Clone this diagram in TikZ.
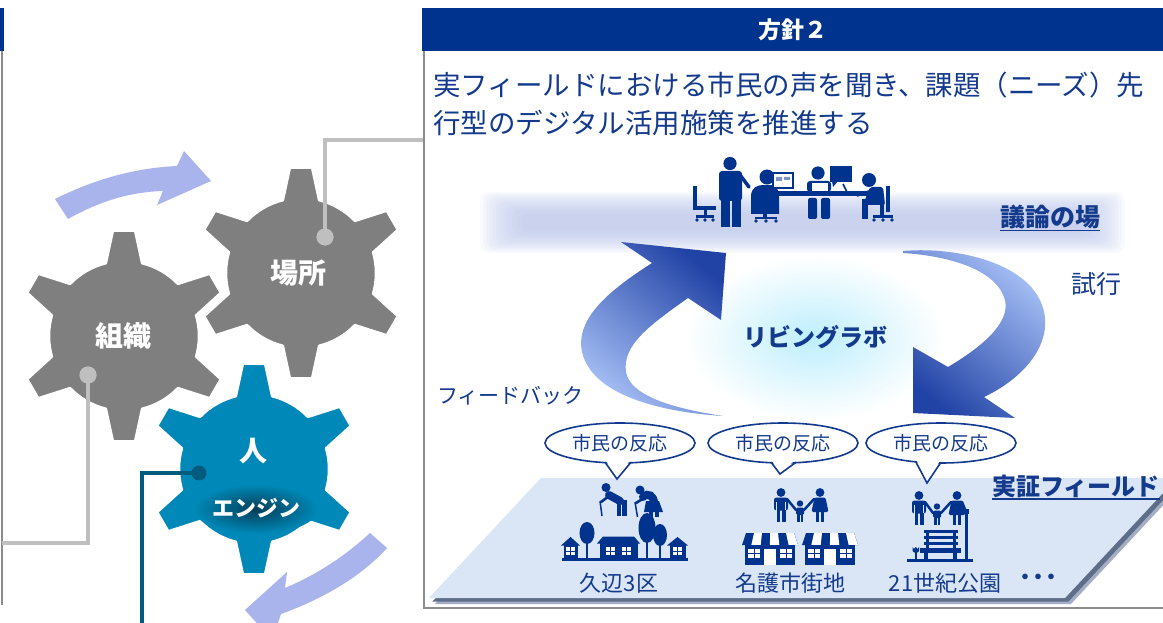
\documentclass[tikz,border=0pt]{standalone}
\usepackage{fontspec}
\setmainfont{Noto Sans CJK JP}
\usetikzlibrary{shapes.geometric,calc}

\definecolor{dblue}{HTML}{00338D}
\definecolor{tblue}{HTML}{133A8C}
\definecolor{geargray}{HTML}{7F7F7F}
\definecolor{gearblue}{HTML}{0089B8}
\definecolor{engc}{HTML}{023E58}
\definecolor{connlight}{HTML}{BFBFBF}
\definecolor{connteal}{HTML}{005C7C}
\definecolor{swirl}{HTML}{A9B3EC}
\definecolor{fieldc}{HTML}{DAE5F5}
\definecolor{shadowa}{HTML}{A3AEC4}
\definecolor{shadowb}{HTML}{5E6D88}
\definecolor{bandc}{HTML}{BCC8EE}
\definecolor{glowc}{HTML}{BDEEFD}
\definecolor{arrlight}{HTML}{A9C2F7}
\definecolor{arrdark}{HTML}{2243A6}
\definecolor{framec}{HTML}{8C8C8C}
\definecolor{monc}{HTML}{7F93C4}

\tikzset{
  gearg/.style={fill=geargray, draw=white, line width=2.5, line join=round},
  gearb/.style={fill=gearblue, draw=white, line width=2.5, line join=round},
  geartxt/.style={text=white, font=\bfseries\fontsize{28}{30}\selectfont, inner sep=0},
  lconn/.style={draw=connlight, line width=4.5},
  tconn/.style={draw=connteal, line width=4},
  ldot/.style={circle, fill=connlight, minimum size=17, inner sep=0},
  tdot/.style={circle, fill=connteal, minimum size=15, inner sep=0},
  bubble/.style={ellipse, draw=tblue, fill=white, line width=1.6, minimum width=150, minimum height=40,
    inner sep=0, text=tblue, font=\fontsize{19}{20}\selectfont},
  lbl/.style={text=tblue, inner sep=0, font=\fontsize{22}{24}\selectfont},
  ico/.style={fill=dblue},
  win/.pic={\fill[white] (0,0) rectangle (9,8);
            \draw[dblue, line width=1] (4.5,0) -- (4.5,8) (0,4) -- (9,4);},
  man/.pic={\fill[dblue] (0,-29.5) circle[radius=4.4];
            \fill[dblue, rounded corners=2.5] (-7,-24.5) rectangle (7,-11.5);
            \fill[fieldc] (-4.8,-20) rectangle (-4,-11);
            \fill[fieldc] (4,-20) rectangle (4.8,-11);
            \fill[dblue] (-4.5,-12) rectangle (-0.6,0);
            \fill[dblue] (0.6,-12) rectangle (4.5,0);},
  woman/.pic={\fill[dblue] (0,-29.5) circle[radius=4.4];
            \fill[dblue, rounded corners=1.5] (-5.5,-24.5) -- (5.5,-24.5) -- (8.5,-10) -- (-8.5,-10) -- cycle;
            \fill[dblue] (-3.8,-10.5) rectangle (-0.7,0);
            \fill[dblue] (0.7,-10.5) rectangle (3.8,0);},
  child/.pic={\fill[dblue] (0,-18.5) circle[radius=3.2];
            \fill[dblue, rounded corners=1.5] (-4,-14.5) rectangle (4,-7);
            \fill[dblue] (-3.3,-7.5) rectangle (-0.5,0);
            \fill[dblue] (0.5,-7.5) rectangle (3.3,0);},
  shop/.pic={\fill[dblue] (0,12) -- (4,0) -- (52,0) -- (56,12) -- cycle;
            \foreach \s in {1,3,5} {\fill[white] ({4+8*\s},0) -- ({4+8*(\s+1)},0) -- ({9.33*(\s+1)},12) -- ({9.33*\s},12) -- cycle;}
            \fill[dblue] (3,12) rectangle (53,32);
            \fill[white] (6,15.5) rectangle (18,25);
            \draw[dblue, line width=1] (12,15.5) -- (12,25) (6,20.2) -- (18,20.2);
            \fill[white] (22,15.5) rectangle (34,32);
            \fill[white] (38,15.5) rectangle (50,25);
            \draw[dblue, line width=1] (44,15.5) -- (44,25) (38,20.2) -- (50,20.2);},
}

% one six-toothed gear centred at (#1,#2)
\newcommand\gearat[3]{%
  \begin{scope}[shift={(#1,#2)}]
    \path[#3] (16:75) \foreach \t in {30,90,...,330} {
        -- ({\t-14}:75) -- ({\t-6}:106) -- ({\t+6}:106) -- ({\t+14}:75)
        arc[start angle={\t+14}, end angle={\t+46}, radius=75] } -- cycle;
  \end{scope}}

% tail of a speech bubble: node, left and right offsets of the base, tip offset
\newcommand\bubtail[4]{%
  \fill[white] ($(#1.center)+(#2,16)$) -- ($(#1.center)+#4$) -- ($(#1.center)+(#3,16)$) -- cycle;
  \draw[tblue, line width=1.6, line join=miter] ($(#1.center)+(#2,19.2)$) -- ($(#1.center)+#4$) -- ($(#1.center)+(#3,19.2)$);}

\begin{document}
\begin{tikzpicture}[x=1pt, y=-1pt]
\useasboundingbox (0,0) rectangle (1163,623);
\clip (0,0) rectangle (1163,623);
\fill[white] (0,0) rectangle (1163,623);

% ---------- left column ----------
\fill[dblue] (0,8) rectangle (4,51);
\draw[framec, line width=2] (1.5,51) -- (1.5,605);

% rotation swirls
\fill[swirl] (55,199) .. controls (95,179) and (135,168) .. (177,166) -- (184,151) -- (211,181)
  -- (157,205) -- (163,191) .. controls (130,192) and (100,201) .. (68,219) -- cycle;
\fill[swirl] (370,533) .. controls (345,556) and (318,574) .. (285,588) -- (287,572) -- (245,610)
  -- (272,640) -- (281,614) .. controls (320,600) and (360,578) .. (387,548) -- cycle;

% gears
\gearat{124}{336}{gearg}
\gearat{301}{273}{gearg}
\gearat{254}{469}{gearb}
\shade[inner color=engc, outer color=gearblue] (256,509) ellipse [x radius=62, y radius=25];

\node[geartxt] (basho) at (298,273) {場所};
\node[geartxt] (soshiki) at (123,336) {組織};
\node[geartxt] (hito) at (253,451) {人};
\node[geartxt, font=\bfseries\fontsize{22}{24}\selectfont] (engine) at (256,508) {エンジン};

% gear connectors
\coordinate (panelIn) at (424,140);
\coordinate (leftIn) at (1.5,543);
\coordinate (bottomOut) at (142,630);
\node[ldot] (dotBasho) at (325,237) {};
\node[ldot] (dotSoshiki) at (88,375) {};
\draw[lconn] (dotBasho.center) |- (panelIn);
\draw[lconn] (dotSoshiki.center) |- (leftIn);
\node[ldot] at (dotBasho) {};
\node[ldot] at (dotSoshiki) {};
\node[tdot] (dotHito) at (199,473) {};
\draw[tconn] (dotHito.center) -| (bottomOut);

% ---------- right panel ----------
\node[fill=dblue, text=white, minimum width=741, minimum height=43, inner sep=0, anchor=north west,
  font=\bfseries\fontsize{23}{24}\selectfont] (hdr) at (422,8) {方針２};
\draw[framec, line width=2] (424,51) -- (424,608) -- (1163,608);

\node[anchor=west, inner sep=0, text=tblue, font=\fontsize{27.5}{28}\selectfont] (title1) at (433,85)
  {実フィールドにおける市民の声を聞き、課題（ニーズ）先};
\node[anchor=west, inner sep=0, text=tblue, font=\fontsize{27.5}{28}\selectfont] (title2) at (433,123)
  {行型のデジタル活用施策を推進する};

% discussion band
\foreach \i in {0,...,13} {
  \fill[bandc, opacity=0.09, rounded corners=9] ({480+3.2*\i},{192+1.7*\i}) rectangle ({1125-3.2*\i},{253-1.7*\i});
}

% glow behind the living lab
\shade[inner color=glowc, outer color=white] (815,338) ellipse [x radius=130, y radius=82];

% feedback arrow
\shade[top color=arrdark, bottom color=arrlight, shading angle=-40]
  (723,416) .. controls (660,412) and (592,395) .. (582,352) .. controls (575,318) and (610,290) .. (652,263)
  -- (621,242) -- (726,253) -- (721,320) -- (688,298)
  .. controls (650,325) and (622,345) .. (626,372) .. controls (630,395) and (670,408) .. (723,416) -- cycle;
% trial arrow
\shade[top color=arrlight, bottom color=arrdark, shading angle=-40]
  (903,251) .. controls (960,246) and (1040,265) .. (1045,318) .. controls (1048,350) and (1020,380) .. (984,397)
  -- (1015,418) -- (913,413) -- (913,347) -- (948,367)
  .. controls (985,345) and (1010,322) .. (1005,300) .. controls (997,270) and (950,256) .. (903,253) -- cycle;

\node[text=tblue, inner sep=0, font=\bfseries\fontsize{24}{26}\selectfont] (lab) at (815,337) {リビングラボ};
\node[text=tblue, inner sep=0, font=\fontsize{21}{22}\selectfont, anchor=west] (fb) at (437,396) {フィードバック};
\node[text=tblue, inner sep=0, font=\fontsize{25}{26}\selectfont] (trial) at (1096,284) {試行};
\node[text=tblue, inner sep=0, font=\bfseries\fontsize{25}{26}\selectfont] (giron) at (1050,217) {議論の場};
\draw[tblue, line width=1.6] ([yshift=-1.5]giron.south west) -- ([yshift=-1.5]giron.south east);

% meeting icon
\fill[ico] (693,186) rectangle (696.5,210);
\fill[ico] (693,206) rectangle (716,210.5);
\fill[ico] (703.5,210) rectangle (706.5,216);
\fill[ico] (696,215.5) rectangle (714,218);
\fill[ico] (697,220) circle[radius=1.8] (713,220) circle[radius=1.8] (705,220) circle[radius=1.8];
\fill[ico] (730,163.5) circle[radius=6.6];
\fill[ico, rounded corners=3] (719,171) rectangle (742,201);
\fill[ico] (720.5,199) rectangle (729.5,227);
\fill[ico] (731.5,199) rectangle (740.5,227);
\draw[dblue, line width=3.5, line cap=round] (740,175) -- (749,187);
\fill[ico] (767,177) circle[radius=7.5];
\fill[ico] (751,214) -- (751,197) .. controls (751,187) and (757,185) .. (765,185) -- (769,185)
  .. controls (777,185) and (779,190) .. (779,197) -- (779,214) -- cycle;
\fill[ico] (763,213) rectangle (767,218);
\fill[ico] (755,217) rectangle (777,219.5);
\fill[ico] (756,221) circle[radius=1.8] (776,221) circle[radius=1.8] (766,221) circle[radius=1.8];
\fill[ico] (772,172) rectangle (794,189);
\fill[white] (774,174) rectangle (792,187);
\fill[monc] (776,177) rectangle (782,181) (784,177) rectangle (790,180);
\fill[ico] (776,191) rectangle (868,196);
\fill[ico] (818,173) circle[radius=6.6];
\fill[ico, rounded corners=3] (807,181) rectangle (831,192);
\fill[white] (811,183) rectangle (828,191.5);
\draw[dblue, line width=1] (811,183) rectangle (828,191.5);
\fill[ico, rounded corners=2] (808,198) rectangle (817,219);
\fill[ico, rounded corners=2] (821,198) rectangle (830,219);
\fill[ico] (830,166) rectangle (852,182);
\fill[ico] (832,181) -- (833,187) -- (838,181) -- cycle;
\draw[dblue, line width=1.6] (843,184) -- (848,194);
\fill[ico] (869,180) circle[radius=7];
\fill[ico, rounded corners=2] (870,187) -- (883,187) -- (885,205) -- (863,205) -- cycle;
\draw[dblue, line width=3.5, line cap=round] (873,191) -- (857,195);
\fill[ico] (862,199) rectangle (868,219);
\fill[ico] (886,186) rectangle (889.5,212);
\fill[ico] (880,204) rectangle (884,216);
\fill[ico] (873,215.5) rectangle (893,218);
\fill[ico] (874,220) circle[radius=1.8] (892,220) circle[radius=1.8] (883,220) circle[radius=1.8];

% demonstration field
\fill[shadowa] (435,604) -- (547,484) -- (1183,484) -- (1071,604) -- cycle;
\fill[shadowb] (432.5,601.5) -- (544.5,481.5) -- (1180.5,481.5) -- (1068.5,601.5) -- cycle;
\fill[fieldc] (429,598) -- (541,478) -- (1177,478) -- (1065,598) -- cycle;
\node[text=tblue, inner sep=0, anchor=west, font=\bfseries\fontsize{24}{26}\selectfont] (field) at (992,486) {実証フィールド};
\draw[tblue, line width=1.6] ([yshift=-1.5]field.south west) -- ([yshift=-1.5]field.south east);

% speech bubbles
\node[bubble] (bub1) at (620,443) {市民の反応};
\node[bubble] (bub2) at (783,443) {市民の反応};
\node[bubble] (bub3) at (941,443) {市民の反応};
\bubtail{bub1}{-15}{11}{(-3,36)}
\bubtail{bub2}{-12}{13}{(-3,31)}
\bubtail{bub3}{-25}{0}{(-14,40)}

% icon: elderly couple and houses
\fill[ico] (606,487.5) circle[radius=4.5];
\draw[dblue, line width=8, line cap=round] (609,495) -- (620,501);
\fill[ico] (616.5,500) rectangle (621,516);
\fill[ico] (622,500) rectangle (626.5,516);
\draw[dblue, line width=2.6, line cap=round] (609,496) -- (601,502);
\draw[dblue, line width=1.5] (600,501) -- (602,516);
\fill[ico] (640,490) circle[radius=4.5];
\draw[dblue, line width=8, line cap=round] (643,497) .. controls (648,492) and (654,496) .. (654,503);
\fill[ico] (646,501) -- (659,501) -- (663,512) -- (644,512) -- cycle;
\fill[ico] (648.5,511) rectangle (652.5,517);
\fill[ico] (654.5,511) rectangle (658.5,517);
\draw[dblue, line width=2.6, line cap=round] (644,498) -- (636,503);
\draw[dblue, line width=1.5] (635,502) -- (637.5,517);
\fill[ico] (562,557.5) rectangle (688,561);
\fill[ico] (561,545.5) -- (570.5,537) -- (580,545.5) -- cycle;
\fill[ico] (563.5,544) rectangle (577.5,558);
\pic at (566,547) {win};
\fill[ico] (587,533) ellipse [x radius=7.5, y radius=11];
\fill[ico] (586.2,540) rectangle (587.8,558);
\fill[ico] (597,543.5) -- (603,536.5) -- (634,536.5) -- (640,543.5) -- cycle;
\fill[ico] (599.5,542) rectangle (637.5,558);
\pic at (606,547) {win};
\pic at (622,547) {win};
\fill[ico] (647,528) ellipse [x radius=8.5, y radius=15];
\fill[ico] (660,535) ellipse [x radius=7, y radius=11];
\fill[ico] (646.2,540) rectangle (647.8,558);
\fill[ico] (659.2,544) rectangle (660.8,558);
\fill[ico] (667,545.5) -- (677.5,537) -- (688,545.5) -- cycle;
\fill[ico] (669.5,544) rectangle (685.5,558);
\pic at (673,547) {win};

% icon: family and shops
\pic at (781,522) {man};
\pic at (800,522) {child};
\pic at (820,522) {woman};
\draw[dblue, line width=2.5, line cap=round] (787,499) -- (796,510) (814,499) -- (804,510);
\pic at (742,533) {shop};
\pic at (802,533) {shop};

% icon: family, bench, lamp and flower
\pic at (919,525) {man};
\pic at (937,525) {child};
\pic at (957,525) {woman};
\draw[dblue, line width=2.5, line cap=round] (925,502) -- (933,513) (951,502) -- (941,513);
\draw[dblue, line width=2.5, line cap=round] (962,502) -- (966,512);
\fill[ico] (964.5,512) rectangle (967.5,561);
\fill[ico] (963,509) rectangle (969,514);
\fill[ico] (924,530) rectangle (958,533);
\fill[ico] (924,536) rectangle (958,539);
\fill[ico] (924,542) rectangle (958,545);
\fill[ico] (926,530) rectangle (929,549);
\fill[ico] (953,530) rectangle (956,549);
\fill[ico] (920,548) rectangle (961,552.5);
\fill[ico] (924,552) rectangle (928,560);
\fill[ico] (953,552) rectangle (957,560);
\fill[ico] (907,559) rectangle (973,562);
\fill[ico] (915.2,552) rectangle (916.5,559);
\fill[ico] (912.5,547) -- (914,549) -- (915.8,547) -- (917.6,549) -- (919,547) -- (919,551) .. controls (918,553.5) and (914,553.5) .. (912.5,551) -- cycle;

% field labels
\node[lbl] (lab1) at (619,583) {久辺3区};
\node[lbl] (lab2) at (790,583) {名護市街地};
\node[lbl] (lab3) at (945,583) {21世紀公園};
\node[lbl, font=\bfseries\fontsize{20}{22}\selectfont] (lab4) at (1038,579) {・\kern-7pt・\kern-7pt・};
\end{tikzpicture}
\end{document}
